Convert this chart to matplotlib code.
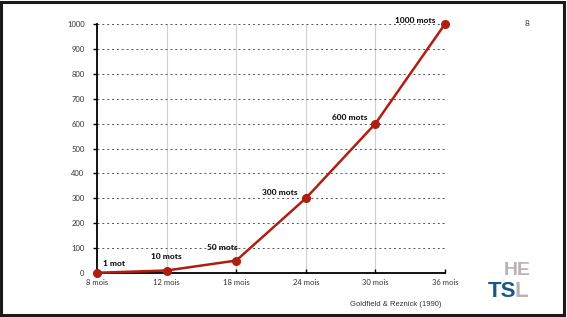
import matplotlib
matplotlib.use('Agg')
import matplotlib.pyplot as plt
from matplotlib.patches import Rectangle

# data
ages = ['8 mois', '12 mois', '18 mois', '24 mois', '30 mois', '36 mois']
words = [1, 10, 50, 300, 600, 1000]
labels = ['1 mot', '10 mots', '50 mots', '300 mots', '600 mots', '1000 mots']
yticks = list(range(0, 1001, 100))

W, H = 567, 317
fig = plt.figure(figsize=(W / 100, H / 100), dpi=100)
fig.patch.set_facecolor('white')

# slide frame
fig.add_artist(Rectangle((0.002, 0.006), 0.993, 0.987, transform=fig.transFigure,
                         fill=False, edgecolor='#1a1a1a', linewidth=2.2))

ax = fig.add_axes([97 / W, (H - 273) / H, (445 - 97) / W, (273 - 24) / H])
x = list(range(len(ages)))
col = '#b01e12'

ax.plot(x, words, '-o', color=col, lw=1.8, ms=5.5, zorder=5, clip_on=False)

ax.set_xlim(0, len(ages) - 1)
ax.set_ylim(0, 1000)
ax.set_xticks(x)
ax.set_xticklabels(ages)
ax.set_yticks(yticks)

# grid: solid light verticals, dotted horizontals
for xi in x[1:]:
    ax.axvline(xi, color='#d0d0d0', lw=0.8, zorder=1)
for yi in yticks[1:]:
    ax.axhline(yi, color='#555555', lw=0.7, ls=(0, (2, 3)), zorder=1)

for s in ['top', 'right']:
    ax.spines[s].set_visible(False)
for s in ['left', 'bottom']:
    ax.spines[s].set_linewidth(1.3)
    ax.spines[s].set_color('black')

ax.tick_params(axis='y', direction='out', length=3, width=1, labelsize=5.5, pad=6, colors='black')
ax.tick_params(axis='x', direction='in', length=3, width=1, labelsize=5.5, pad=4, colors='black')
for t in ax.get_xticklabels() + ax.get_yticklabels():
    t.set_family('Lato')
    t.set_color('#333333')

# point labels (offsets in points from each marker)
offs = [(12, 7), (0, 10), (-10, 9.4), (-18.7, 4.3), (-18.7, 4.3), (-21.6, 2.2)]
for xi, yi, lab, (dx, dy) in zip(x, words, labels, offs):
    ax.annotate(lab, (xi, yi), xytext=(dx, dy), textcoords='offset points',
                ha='center', va='center', fontsize=6, fontweight='black', family='Lato',
                color='#111111')

fig.text(527 / W, 1 - 23 / H, '8', fontsize=6, family='Lato', ha='center', va='center', color='#333333')
fig.text(396 / W, 1 - 305 / H, 'Goldfield & Reznick (1990)', fontsize=5.5,
         family='Liberation Sans', ha='center', va='center', color='#333333')

# HETSL logo
fig.text(531 / W, 1 - 270.5 / H, 'HE', fontsize=14, fontweight='bold', family='Liberation Sans',
         ha='right', va='center', color='#bcb2b5')
fig.text(488 / W, 1 - 291.5 / H, 'TS', fontsize=16, fontweight='bold', family='Liberation Sans',
         ha='left', va='center', color='#1b5784')
fig.text(515 / W, 1 - 291.5 / H, 'L', fontsize=16, fontweight='bold', family='Liberation Sans',
         ha='left', va='center', color='#bcb2b5')

fig.savefig('out.png', dpi=100)
